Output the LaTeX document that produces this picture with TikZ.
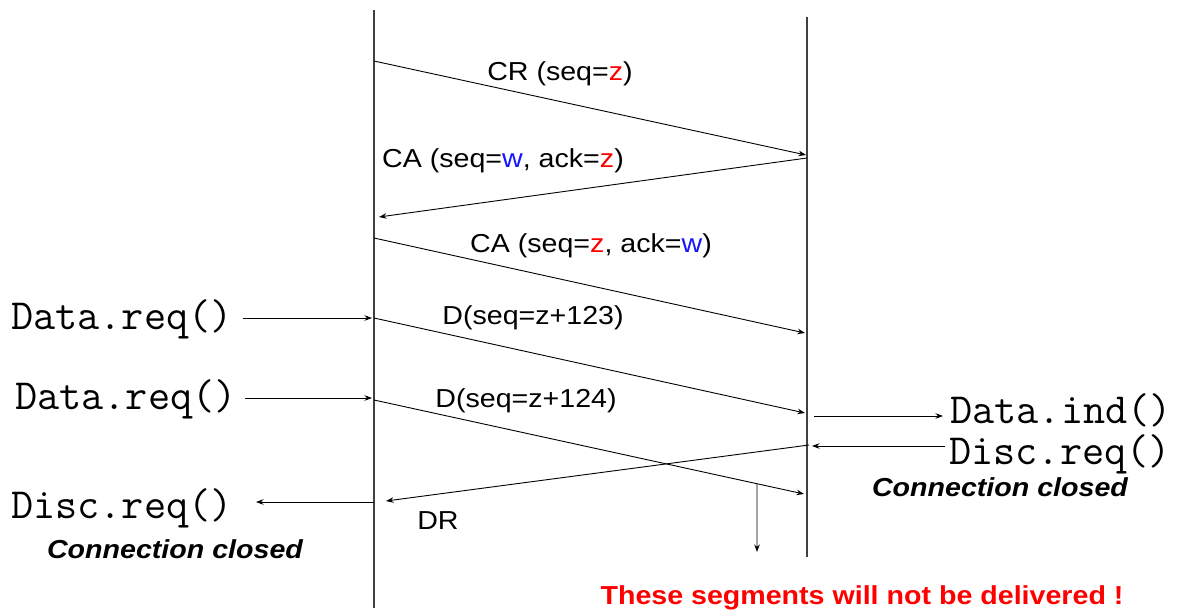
\documentclass[tikz,border=0pt]{standalone}
\usepackage{fontspec}
\usetikzlibrary{arrows.meta,calc}
\newfontfamily\labfont[FakeStretch=1.1]{Liberation Sans}
\definecolor{segred}{RGB}{255,0,0}
\definecolor{segblue}{RGB}{20,20,255}
\tikzset{
  life/.style={draw=black!75, line width=1.3pt},
  msg/.style={draw=black, line width=0.9pt, -{Stealth[length=7.5pt,width=5.5pt]}},
  lab/.style={font=\labfont\fontsize{26}{30}\selectfont, inner sep=0pt},
  code/.style={font=\ttfamily\fontsize{43}{48}\selectfont, inner sep=0pt},
  closed/.style={font=\labfont\bfseries\itshape\fontsize{26}{30}\selectfont, inner sep=0pt},
  warn/.style={font=\labfont\bfseries\fontsize{26}{30}\selectfont, text=segred, inner sep=0pt}
}
\begin{document}
\begin{tikzpicture}[x=1pt,y=-1pt]
\useasboundingbox (0,0) rectangle (1179,613);
% lifelines
\coordinate (Ltop) at (374,10);
\coordinate (Lbot) at (374,608);
\coordinate (Rtop) at (807,17);
\coordinate (Rbot) at (807,557);
\draw[life] (Ltop) -- (Lbot);
\draw[life] (Rtop) -- (Rbot);
% message end points
\coordinate (a1) at (374,61);  \coordinate (b1) at (806,155);
\coordinate (b2) at (807,158); \coordinate (a2) at (379,217);
\coordinate (a3) at (374,238); \coordinate (b3) at (805,333);
\coordinate (a4) at (374,318); \coordinate (b4) at (805,413);
\coordinate (a5) at (374,400); \coordinate (b5) at (804,494);
\coordinate (b6) at (809,445); \coordinate (a6) at (386,501);
\coordinate (d0) at ($(a5)!0.8907!(b5)$);
\coordinate (d1) at (757,552);
% messages
\draw[msg] (a1) -- (b1);
\draw[msg] (b2) -- (a2);
\draw[msg] (a3) -- (b3);
\draw[msg] (a4) -- (b4);
\draw[msg] (a5) -- (b5);
\draw[msg] (b6) -- (a6);
\draw[msg] (d0) -- (d1);
% message labels
\node[lab] (lcr) at (560,74) {CR (seq=\textcolor{segred}{z})};
\node[lab] (lca1) at (503,161) {CA (seq=\textcolor{segblue}{w}, ack=\textcolor{segred}{z})};
\node[lab] (lca2) at (591,246) {CA (seq=\textcolor{segred}{z}, ack=\textcolor{segblue}{w})};
\node[lab] (ld1) at (533,318) {D(seq=z+123)};
\node[lab] (ld2) at (526,401) {D(seq=z+124)};
\node[lab] (ldr) at (438,521) {DR};
% primitives left
\node[code] (dreq1) at (122,319) {Data.req()};
\node[code] (dreq2) at (126,399) {Data.req()};
\node[code] (disc1) at (122,508) {Disc.req()};
\coordinate (s1) at (243,318); \coordinate (e1) at (372,318);
\coordinate (s2) at (245,398); \coordinate (e2) at (372,398);
\coordinate (s3) at (374,502); \coordinate (e3) at (256,502);
\draw[msg] (s1) -- (e1);
\draw[msg] (s2) -- (e2);
\draw[msg] (s3) -- (e3);
\node[closed] (cl1) at (175,549) {Connection closed};
% primitives right
\node[code] (dind) at (1061,410) {Data.ind()};
\node[code] (disc2) at (1060,454) {Disc.req()};
\coordinate (s4) at (814,416); \coordinate (e4) at (943,416);
\coordinate (s5) at (945,446); \coordinate (e5) at (812,446);
\draw[msg] (s4) -- (e4);
\draw[msg] (s5) -- (e5);
\node[closed] (cl2) at (1000,487) {Connection closed};
% warning
\node[warn] (warn) at (862,598) {These segments will not be delivered !};
\end{tikzpicture}
\end{document}
